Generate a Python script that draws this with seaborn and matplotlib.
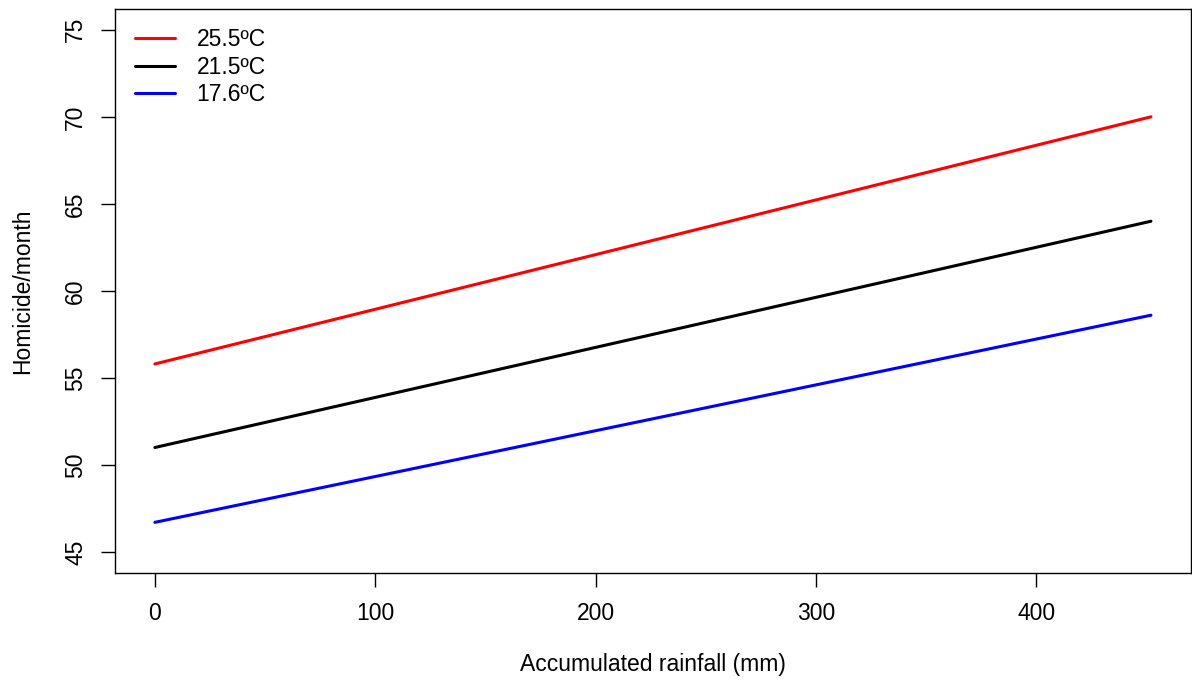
import matplotlib
matplotlib.use("Agg")
import matplotlib.pyplot as plt
import seaborn as sns
import pandas as pd

# Data
rainfall = [0, 452]
temps = ["25.5ºC", "21.5ºC", "17.6ºC"]
homicide_hot = [55.8, 70.0]
homicide_mid = [51.0, 64.0]
homicide_cold = [46.7, 58.6]
colors = ["#FF0000", "#000000", "#0000FF"]

rows = []
for t, vals in zip(temps, [homicide_hot, homicide_mid, homicide_cold]):
    for x, y in zip(rainfall, vals):
        rows.append({"rain": x, "homicide": y, "temp": t})
df = pd.DataFrame(rows)

sns.set_style("ticks")
plt.rcParams["font.family"] = ["Liberation Sans", "DejaVu Sans"]
plt.rcParams["text.color"] = "black"
plt.rcParams["axes.labelcolor"] = "black"
plt.rcParams["xtick.color"] = "black"
plt.rcParams["ytick.color"] = "black"

fs = 16.5
fig = plt.figure(figsize=(11.92, 6.86), dpi=100)
ax = fig.add_axes([0.0965, 0.165, 0.9025, 0.822])

sns.lineplot(data=df, x="rain", y="homicide", hue="temp", hue_order=temps,
             palette=colors, linewidth=2.2, ax=ax)

ax.set_xlim(-18.08, 470.08)
ax.set_ylim(43.8, 76.2)
ax.set_xticks([0, 100, 200, 300, 400])
ax.set_yticks([45, 50, 55, 60, 65, 70, 75])
ax.tick_params(axis="both", labelsize=fs, length=10, width=1, direction="out")
ax.tick_params(axis="x", pad=11)
ax.tick_params(axis="y", pad=10)
for lab in ax.get_yticklabels():
    lab.set_rotation(90)
    lab.set_va("center")
for s in ax.spines.values():
    s.set_linewidth(1)
    s.set_color("black")

ax.set_xlabel("Accumulated rainfall (mm)", fontsize=fs, labelpad=20)
ax.set_ylabel("Homicide/month", fontsize=fs, labelpad=22)

ax.legend(loc="upper left", frameon=False, fontsize=fs, handlelength=1.75,
          handletextpad=0.95, labelspacing=0.18, borderaxespad=0.45)

fig.savefig("out.png", dpi=100)
